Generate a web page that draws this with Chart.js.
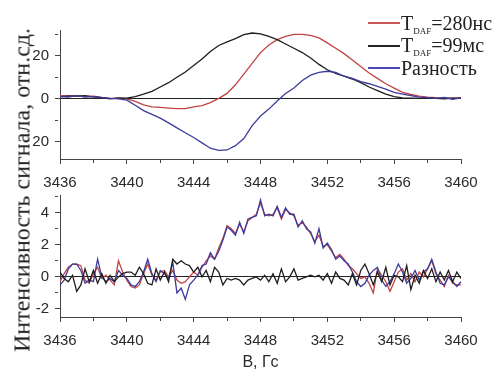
<!DOCTYPE html>
<html><head><meta charset="utf-8">
<script src="https://cdn.jsdelivr.net/npm/chart.js@4.4.1/dist/chart.umd.min.js"></script>
<style>
html,body{margin:0;padding:0;background:#fff;}
#wrap{position:relative;width:497px;height:369px;overflow:hidden;background:#fff;}
#c1{position:absolute;left:0;top:0;}
#c2{position:absolute;left:0;top:180px;}
#ytitle{position:absolute;left:22px;top:190px;transform:translate(-50%,-50%) rotate(-90deg);font-family:"Liberation Serif","Times New Roman",serif;font-size:24px;color:#222;white-space:nowrap;}
.leg{position:absolute;left:401px;height:22px;font-family:"Liberation Serif","Times New Roman",serif;font-size:20px;color:#222;white-space:nowrap;line-height:22px;}
.legln{position:absolute;left:368px;width:32px;height:2px;}
.leg sub{font-size:9px;vertical-align:-4px;line-height:0;}
</style></head>
<body>
<div id="wrap">
<canvas id="c1" width="497" height="190"></canvas>
<canvas id="c2" width="497" height="189"></canvas>
<div id="ytitle">Интенсивность сигнала, отн.сд.</div>
<div class="legln" style="top:22px;background:#cc5555"></div>
<div class="legln" style="top:45px;background:#222"></div>
<div class="legln" style="top:67px;background:#4a4ab4"></div>
<div class="leg" style="top:12px">T<sub>DAF</sub>=280нс</div>
<div class="leg" style="top:34px">T<sub>DAF</sub>=99мс</div>
<div class="leg" style="top:57px">Разность</div>
</div>
<script>
// ---------- data ----------
const topX = [3436,3436.5,3437,3437.5,3438,3438.5,3439,3439.5,3440,3440.5,3441,3441.5,3442,3442.5,3443,3443.5,3444,3444.5,3445,3445.5,3446,3446.5,3447,3447.5,3448,3448.5,3449,3449.5,3450,3450.5,3451,3451.5,3452,3452.5,3453,3453.5,3454,3454.5,3455,3455.5,3456,3456.5,3457,3457.5,3458,3458.5,3459,3459.5,3460];
const topRed = [1.5,1.2,1.5,1.0,1.2,0.6,0.2,0.3,0.0,-1.2,-2.8,-3.8,-4.0,-4.3,-4.6,-4.6,-3.8,-3.2,-1.8,0.2,2.5,6.5,11.5,16.5,21.5,25.0,27.5,29.0,30.0,30.0,29.5,28.3,26.0,23.5,21.0,18.0,15.0,12.0,9.5,7.0,5.0,3.0,2.0,1.2,0.8,0.5,0.4,0.3,0.5];
const topBlack = [1.0,1.3,1.2,1.5,0.9,0.5,0.0,0.4,0.3,1.0,2.2,3.5,5.5,7.5,10.0,12.5,15.5,18.5,22.0,24.8,26.5,28.0,29.8,30.6,30.2,29.0,27.5,25.5,23.5,21.5,19.0,16.0,13.5,11.8,10.5,9.2,7.5,5.5,3.8,2.2,1.0,0.4,0.3,0.2,0.3,0.2,0.0,0.3,0.2];
const topBlue = [1.0,0.8,1.5,0.8,1.0,0.5,0.2,0.0,-0.6,-3.0,-5.5,-7.2,-9.0,-11.2,-13.5,-15.8,-18.0,-20.5,-23.0,-24.0,-23.8,-21.8,-18.5,-12.5,-8.0,-4.8,-1.0,2.5,5.0,8.5,11.0,12.3,12.8,12.3,10.5,9.5,8.0,7.0,5.8,4.5,3.0,2.2,1.5,0.8,0.5,0.2,0.6,-0.2,0.4];

const botX = [3436,3436.25,3436.5,3436.75,3437,3437.25,3437.5,3437.75,3438,3438.25,3438.5,3438.75,3439,3439.25,3439.5,3439.75,3440,3440.25,3440.5,3440.75,3441,3441.25,3441.5,3441.75,3442,3442.25,3442.5,3442.75,3443,3443.25,3443.5,3443.75,3444,3444.25,3444.5,3444.75,3445,3445.25,3445.5,3445.75,3446,3446.25,3446.5,3446.75,3447,3447.25,3447.5,3447.75,3448,3448.25,3448.5,3448.75,3449,3449.25,3449.5,3449.75,3450,3450.25,3450.5,3450.75,3451,3451.25,3451.5,3451.75,3452,3452.25,3452.5,3452.75,3453,3453.25,3453.5,3453.75,3454,3454.25,3454.5,3454.75,3455,3455.25,3455.5,3455.75,3456,3456.25,3456.5,3456.75,3457,3457.25,3457.5,3457.75,3458,3458.25,3458.5,3458.75,3459,3459.25,3459.5,3459.75,3460];
const botRed = [-0.3,0.2,0.6,0.8,0.8,0.7,-0.2,-0.4,0.2,0.6,-0.1,0.1,-0.2,-0.5,1.0,0.3,-0.2,-0.6,-0.7,-0.5,0.2,0.8,0.1,-0.2,0.3,0.4,0.0,0.4,-0.2,-0.4,-0.3,0.0,0.3,0.1,0.6,1.0,1.3,1.1,1.8,2.4,3.2,3.0,2.7,3.3,2.8,3.5,3.7,3.9,4.6,3.9,3.8,3.9,4.3,3.6,4.2,4.0,3.8,3.2,3.4,3.1,2.7,2.2,2.6,1.9,2.0,1.6,1.2,1.4,1.1,0.7,0.5,0.2,-0.1,0.0,-0.4,-1.0,0.5,0.1,-0.3,-0.9,-0.3,0.3,0.5,-0.2,0.2,-0.3,0.3,0.0,0.5,1.0,0.2,-0.2,-0.6,0.1,-0.4,-0.5,-0.5];
const botBlue = [-0.5,-0.2,0.5,0.8,0.8,0.4,-0.4,-0.2,-0.3,1.1,0.0,-0.3,-0.1,-0.3,0.4,0.1,-0.1,-0.5,-0.6,-0.3,0.3,1.1,0.2,-0.3,0.4,0.2,-0.1,0.9,-1.0,-0.7,-1.4,-0.5,-0.2,0.1,0.7,0.8,1.5,1.1,1.6,2.3,3.1,2.9,2.6,3.4,2.7,3.6,3.7,3.8,4.8,3.8,3.9,3.8,4.4,3.7,4.3,3.9,3.9,3.1,3.5,3.0,2.8,2.1,3.0,1.8,2.1,1.7,1.1,1.3,1.0,0.8,0.3,-0.3,-0.6,-0.4,0.1,0.4,0.6,-0.2,-0.6,-0.3,0.2,0.8,0.3,-0.4,-0.1,0.4,-0.2,0.3,0.5,1.1,0.3,-0.4,-0.5,0.0,-0.3,-0.6,-0.3];
const botBlack = [0.3,-0.1,-0.3,0.1,-0.9,-0.5,0.5,-0.3,0.4,-0.4,0.2,-0.4,0.1,-0.3,0.0,0.2,0.3,0.3,0.1,0.6,0.2,-0.4,-0.5,0.5,-0.2,0.3,-0.3,1.1,0.8,1.0,0.8,0.7,0.3,0.6,0.0,0.4,-0.3,0.6,0.3,-0.5,-0.1,-0.2,-0.1,-0.2,-0.5,-0.2,-0.1,0.0,-0.2,0.1,-0.3,0.2,-0.4,0.5,-0.3,0.0,0.5,-0.2,-0.1,0.0,0.1,0.0,0.1,-0.2,0.2,-0.4,0.3,-0.1,-0.2,-0.5,0.2,-0.5,0.4,0.8,0.2,-0.5,0.3,-0.3,0.6,-0.5,0.1,0.0,-0.3,0.7,-0.8,0.1,-0.4,0.4,-0.1,0.5,-0.3,0.3,-0.2,0.4,-0.3,0.3,-0.1];

const xTicks = [3436,3438,3440,3442,3444,3446,3448,3450,3452,3454,3456,3458,3460];
const xLabelTicks = [3436,3440,3444,3448,3452,3456,3460];
const topYTicks = [-20,-10,0,10,20,30];
const topYLabelTicks = [-20,0,20];
const botYTicks = [-2,-1,0,1,2,3,4,5];
const botYLabelTicks = [-2,0,2,4];

const RED = '#c04444', BLACK = '#1e1e1e', BLUE = '#3c3c9c';
const tickFont = {family:'"Liberation Sans", Arial, sans-serif', size:15};
const AX = '#444';

function pts(xs, ys){ return xs.map((x,i)=>({x:x, y:ys[i]})); }
function ds(xs, ys, color, order){
  return {data: pts(xs, ys), borderColor: color, borderWidth: 1.3, pointRadius: 0, tension: 0, fill: false, order: order};
}

function makeChart(id, sets, yMin, yMax, yTicks, yLabels, yAbs, padTop, xHeight, withTitle){
  return new Chart(document.getElementById(id), {
    type: 'line',
    data: { datasets: sets },
    options: {
      responsive: false, animation: false,
      layout: { padding: {left: 0, right: 36, top: padTop, bottom: 0} },
      plugins: { legend: {display: false}, tooltip: {enabled: false} },
      scales: {
        x: {
          type: 'linear', min: 3436, max: 3460,
          afterBuildTicks: s => { s.ticks = xTicks.map(v => ({value: v})); },
          afterFit: s => { s.height = xHeight; },
          grid: { drawOnChartArea: false, drawTicks: true, tickLength: 5, color: AX, tickColor: AX,
            tickBorderDash: c => (c.tick && xLabelTicks.includes(c.tick.value)) ? [] : [3, 20] },
          border: { display: true, color: AX, width: 1 },
          ticks: { font: tickFont, color: '#2a2a2a', padding: 10, maxRotation: 0, autoSkip: false,
            callback: v => xLabelTicks.includes(v) ? String(v) : '' },
          title: withTitle ? { display: true, text: 'В, Гс', font: {family:'"Liberation Sans", Arial, sans-serif', size:16}, color: '#2a2a2a', padding: {top: 0, bottom: -3} } : {display: false}
        },
        y: {
          min: yMin, max: yMax,
          afterBuildTicks: s => { s.ticks = yTicks.map(v => ({value: v})); },
          afterFit: s => { s.width = 60; },
          grid: { drawOnChartArea: true, drawTicks: true, tickLength: 5,
            color: c => (c.tick && c.tick.value === 0) ? '#222' : 'rgba(0,0,0,0)', tickColor: AX, lineWidth: 1,
            tickBorderDash: c => (c.tick && yLabels.includes(c.tick.value)) ? [] : [3, 20] },
          border: { display: true, color: AX, width: 1 },
          ticks: { font: tickFont, color: '#2a2a2a', padding: 6, autoSkip: false,
            callback: v => yLabels.includes(v) ? String(yAbs ? Math.abs(v) : v) : '' }
        }
      }
    }
  });
}

makeChart('c1', [ds(topX, topRed, RED, 3), ds(topX, topBlack, BLACK, 2), ds(topX, topBlue, BLUE, 1)],
  -28, 32, topYTicks, topYLabelTicks, true, 30, 31, false);
makeChart('c2', [ds(botX, botRed, RED, 3), ds(botX, botBlue, BLUE, 2), ds(botX, botBlack, BLACK, 1)],
  -2.5, 5.1, botYTicks, botYLabelTicks, false, 13, 52, true);
</script>
</body></html>
